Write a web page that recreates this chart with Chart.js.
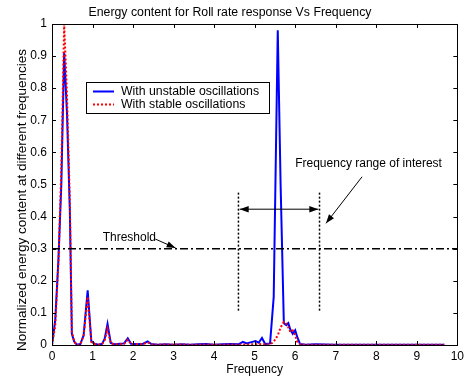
<!DOCTYPE html>
<html>
<head>
<meta charset="utf-8">
<script src="https://cdn.jsdelivr.net/npm/chart.js@4/dist/chart.umd.min.js"></script>
<style>
html,body{margin:0;padding:0;background:#fff;}
#wrap{width:468px;height:381px;}
</style>
</head>
<body>
<div id="wrap"><canvas id="c" width="468" height="381"></canvas></div>
<script>
// ---- data ----
const freqs = [0, 0.08, 0.16, 0.23, 0.30, 0.37, 0.44, 0.49, 0.55, 0.62, 0.70, 0.78, 0.88, 0.97, 1.05, 1.15, 1.24, 1.30, 1.37, 1.45, 1.55, 1.68, 1.78, 1.87, 1.95, 2.10, 2.25, 2.36, 2.45, 2.60, 2.80, 3.00, 3.20, 3.40, 3.60, 3.80, 4.00, 4.20, 4.40, 4.60, 4.71, 4.80, 4.92, 5.02, 5.10, 5.18, 5.26, 5.38, 5.47, 5.57, 5.64, 5.72, 5.78, 5.83, 5.88, 5.94, 6.00, 6.05, 6.12, 6.25, 6.50, 7.00, 7.50, 8.00, 8.50, 9.00, 9.68];
const unstableEnergy = [0, 0.078, 0.27, 0.50, 0.91, 0.72, 0.42, 0.035, 0.01, 0.0, 0.003, 0.03, 0.17, 0.012, 0.004, 0.001, 0.004, 0.02, 0.066, 0.006, 0.002, 0.004, 0.005, 0.021, 0.004, 0.002, 0.004, 0.011, 0.003, 0.001, 0.002, 0.001, 0.002, 0.001, 0.002, 0.003, 0.001, 0.002, 0.003, 0.002, 0.010, 0.005, 0.009, 0.012, 0.007, 0.022, 0.003, 0.005, 0.15, 0.98, 0.50, 0.068, 0.062, 0.068, 0.048, 0.035, 0.046, 0.025, 0.003, 0.001, 0.002, 0.001, 0.001, 0.001, 0.001, 0.001, 0.001];
const stableEnergy = [0, 0.06, 0.26, 0.55, 1.00, 0.78, 0.45, 0.04, 0.01, 0.0, 0.003, 0.028, 0.15, 0.01, 0.004, 0.001, 0.004, 0.015, 0.05, 0.005, 0.002, 0.003, 0.004, 0.016, 0.003, 0.002, 0.003, 0.008, 0.002, 0.001, 0.002, 0.001, 0.002, 0.001, 0.001, 0.002, 0.001, 0.001, 0.002, 0.001, 0.002, 0.001, 0.002, 0.002, 0.002, 0.003, 0.002, 0.002, 0.01, 0.03, 0.055, 0.072, 0.066, 0.055, 0.04, 0.045, 0.03, 0.01, 0.002, 0.001, 0.001, 0.001, 0.001, 0.001, 0.001, 0.001, 0.001];
const xTicks = [0,1,2,3,4,5,6,7,8,9,10];
const yTicks = [0,0.1,0.2,0.3,0.4,0.5,0.6,0.7,0.8,0.9,1];
const xTickLabels = ['0','1','2','3','4','5','6','7','8','9','10'];
const yTickLabels = ['0','0.1','0.2','0.3','0.4','0.5','0.6','0.7','0.8','0.9','1'];
const seriesNames = ['With unstable oscillations','With stable oscillations'];
const yAxisLabel = 'Normalized energy content at different frequencies';
const thresholdValue = 0.3;
const rangeBounds = [4.6, 6.6];

const FONT = "'Liberation Sans', Arial, Helvetica, sans-serif";

const annotations = {
  id: 'annotations',
  afterDatasetsDraw(chart) {
    const ctx = chart.ctx, xs = chart.scales.x, ys = chart.scales.y, a = chart.chartArea;
    const X = v => xs.getPixelForValue(v), Y = v => ys.getPixelForValue(v);
    function head(x1, y1, x2, y2) {
      const ang = Math.atan2(y2 - y1, x2 - x1), L = 9, W = 3.2;
      ctx.beginPath();
      ctx.moveTo(x2, y2);
      ctx.lineTo(x2 - L*Math.cos(ang) + W*Math.sin(ang), y2 - L*Math.sin(ang) - W*Math.cos(ang));
      ctx.lineTo(x2 - L*Math.cos(ang) - W*Math.sin(ang), y2 - L*Math.sin(ang) + W*Math.cos(ang));
      ctx.closePath(); ctx.fill();
    }
    ctx.save();
    ctx.strokeStyle = '#000'; ctx.fillStyle = '#000';
    ctx.lineWidth = 1.5; ctx.setLineDash([8,3,2,3]);
    ctx.beginPath(); ctx.moveTo(a.left, Y(thresholdValue)); ctx.lineTo(a.right, Y(thresholdValue)); ctx.stroke();
    ctx.setLineDash([2,2]);
    rangeBounds.forEach(b => { ctx.beginPath(); ctx.moveTo(X(b), Y(0.107)); ctx.lineTo(X(b), Y(0.478)); ctx.stroke(); });
    ctx.setLineDash([]); ctx.lineWidth = 1;
    const ya = Y(0.423), xl = X(4.63), xr = X(6.57);
    ctx.beginPath(); ctx.moveTo(xl, ya); ctx.lineTo(xr, ya); ctx.stroke();
    head(xr, ya, xl, ya); head(xl, ya, xr, ya);
    ctx.beginPath(); ctx.moveTo(X(7.65), Y(0.524)); ctx.lineTo(X(6.76), Y(0.379)); ctx.stroke();
    head(X(7.65), Y(0.524), X(6.76), Y(0.379));
    ctx.beginPath(); ctx.moveTo(X(2.55), Y(0.33)); ctx.lineTo(X(3.05), Y(0.302)); ctx.stroke();
    head(X(2.55), Y(0.33), X(3.05), Y(0.302));
    ctx.font = '12px ' + FONT; ctx.textBaseline = 'middle';
    ctx.textAlign = 'center';
    ctx.fillText('Frequency range of interest', X(7.81), Y(0.565));
    ctx.textAlign = 'left';
    ctx.fillText('Threshold', X(1.25), Y(0.334));
    ctx.restore();
  },
  afterDraw(chart) {
    const ctx = chart.ctx, xs = chart.scales.x, ys = chart.scales.y, a = chart.chartArea;
    ctx.save();
    ctx.strokeStyle = '#000'; ctx.lineWidth = 1;
    ctx.strokeRect(Math.round(a.left)+0.5, Math.round(a.top)+0.5, Math.round(a.right-a.left), Math.round(a.bottom-a.top));
    const T = 4;
    ctx.beginPath();
    xTicks.forEach(v => {
      const px = Math.round(xs.getPixelForValue(v)) + 0.5;
      ctx.moveTo(px, a.bottom); ctx.lineTo(px, a.bottom - T);
      ctx.moveTo(px, a.top); ctx.lineTo(px, a.top + T);
    });
    yTicks.forEach(v => {
      const py = Math.round(ys.getPixelForValue(v)) + 0.5;
      ctx.moveTo(a.left, py); ctx.lineTo(a.left + T, py);
      ctx.moveTo(a.right, py); ctx.lineTo(a.right - T, py);
    });
    ctx.stroke();
    // y axis label
    ctx.save();
    ctx.translate(22, 200); ctx.rotate(-Math.PI/2);
    ctx.fillStyle = '#000'; ctx.font = '13.5px ' + FONT; ctx.textAlign = 'center'; ctx.textBaseline = 'middle';
    ctx.fillText(yAxisLabel, 0, 0);
    ctx.restore();
    // legend
    const lx = 86, ly = 82, lw = 183, lh = 31;
    ctx.fillStyle = '#fff'; ctx.fillRect(lx, ly, lw, lh);
    ctx.strokeRect(lx + 0.5, ly + 0.5, lw, lh);
    ctx.lineWidth = 2;
    ctx.strokeStyle = '#0000ff';
    ctx.beginPath(); ctx.moveTo(93, 91.5); ctx.lineTo(114, 91.5); ctx.stroke();
    ctx.strokeStyle = '#ff0000'; ctx.setLineDash([2,2]);
    ctx.beginPath(); ctx.moveTo(93, 104.5); ctx.lineTo(114, 104.5); ctx.stroke();
    ctx.setLineDash([]);
    ctx.fillStyle = '#000'; ctx.font = '12.3px ' + FONT; ctx.textBaseline = 'middle'; ctx.textAlign = 'left';
    ctx.fillText(seriesNames[0], 121, 91.5);
    ctx.fillText(seriesNames[1], 121, 104.5);
    ctx.restore();
  }
};

const pts = vals => freqs.map((f, i) => ({x: f, y: vals[i]}));

new Chart(document.getElementById('c'), {
  type: 'scatter',
  data: {
    datasets: [
      { label: seriesNames[0], data: pts(unstableEnergy), showLine: true, borderColor: '#0000ff', backgroundColor: '#0000ff', borderWidth: 2, pointRadius: 0, tension: 0, order: 1 },
      { label: seriesNames[1], data: pts(stableEnergy), showLine: true, borderColor: '#ff0000', backgroundColor: '#ff0000', borderWidth: 2, borderDash: [2,2], pointRadius: 0, tension: 0, order: 0 }
    ]
  },
  options: {
    responsive: false, animation: false, devicePixelRatio: 1,
    layout: { padding: { top: 0, right: 8, left: 0, bottom: 0 } },
    plugins: {
      legend: { display: false }, tooltip: { enabled: false },
      title: { display: true, text: 'Energy content for Roll rate response Vs Frequency', color: '#000',
               font: { family: FONT, size: 12.3, weight: 'normal' }, padding: { top: 5.5, bottom: 3.7 } }
    },
    scales: {
      x: {
        type: 'linear', min: 0, max: 10,
        afterBuildTicks: s => { s.ticks = xTicks.map(v => ({ value: v })); },
        afterFit: s => { s.height = 36; },
        grid: { display: false, drawTicks: false }, border: { display: false },
        ticks: { color: '#000', font: { family: FONT, size: 12 }, padding: 4, maxRotation: 0, autoSkip: false,
                 callback: (v, i) => xTickLabels[i] },
        title: { display: true, text: 'Frequency', color: '#000', font: { family: FONT, size: 12 }, padding: { top: 0, bottom: 3.8 } }
      },
      y: {
        type: 'linear', min: 0, max: 1,
        afterBuildTicks: s => { s.ticks = yTicks.map(v => ({ value: v })); },
        afterFit: s => { s.width = 52; },
        grid: { display: false, drawTicks: false }, border: { display: false },
        ticks: { color: '#000', font: { family: FONT, size: 12 }, padding: 5, autoSkip: false,
                 callback: (v, i) => yTickLabels[i] },
        title: { display: false }
      }
    }
  },
  plugins: [annotations]
});
</script>
</body>
</html>
